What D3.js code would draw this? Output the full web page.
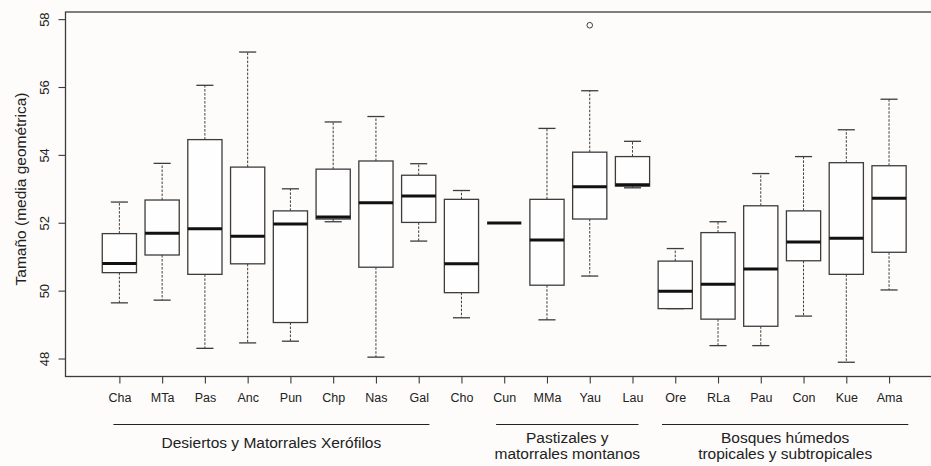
<!DOCTYPE html>
<html>
<head>
<meta charset="utf-8">
<script src="https://cdn.jsdelivr.net/npm/d3@7"></script>
<style>
  html, body { margin: 0; padding: 0; background: #fdfcfa; }
  svg { display: block; }
  text { font-family: "Liberation Sans", Arial, sans-serif; fill: #222; }
</style>
</head>
<body>
<svg id="chart" width="931" height="466"></svg>
<script>
// ---- data ----
const categories = ["Cha","MTa","Pas","Anc","Pun","Chp","Nas","Gal","Cho","Cun","MMa","Yau","Lau","Ore","RLa","Pau","Con","Kue","Ama"];
const whiskerLow  = [49.64,49.72,48.30,48.46,48.51,52.03,48.04,51.46,49.20,51.99,49.14,50.43,53.03,49.47,48.38,48.38,49.25,47.89,50.02];
const q1          = [50.53,51.05,50.48,50.79,49.06,52.11,50.69,52.01,49.94,51.99,50.16,52.11,53.08,49.47,49.16,48.95,50.88,50.48,51.13];
const medians     = [50.80,51.69,51.82,51.60,51.96,52.17,52.59,52.79,50.79,51.99,51.49,53.06,53.12,49.98,50.19,50.64,51.43,51.54,52.72];
const q3          = [51.68,52.67,54.45,53.64,52.35,53.58,53.82,53.40,52.69,51.99,52.69,54.08,53.95,50.87,51.71,52.50,52.35,53.77,53.68];
const whiskerHigh = [52.61,53.75,56.05,57.03,53.00,54.97,55.13,53.74,52.95,51.99,54.78,55.89,54.40,51.24,52.03,53.45,53.95,54.74,55.64];
const outliers    = [{cat:"Yau", value:57.82}];
const yTicks = [48,50,52,54,56,58];
const groupNames = [
  ["Desiertos y Matorrales Xerófilos"],
  ["Pastizales y","matorrales montanos"],
  ["Bosques húmedos","tropicales y subtropicales"]
];
// extent of each group's underline, in category-position units
const groupStart = [0.86, 9.81, 13.69];
const groupEnd   = [8.25, 13.14, 19.45];
const yTitle = "Tamaño (media geométrica)";

// ---- layout ----
const svg = d3.select("#chart");
const mLeft = 65.5, mTop = 12, mBottom = 376.5;
const n = categories.length;
const step = 42.76;
const xr = n * 0.04;
const x = d3.scaleLinear().domain([0.5 - xr, n + 0.5 + xr]).range([mLeft, mLeft + step * (n + 2 * xr)]);
const mRight = x.range()[1];
const y = d3.scaleLinear().domain([47.47, 58.21]).range([mBottom, mTop]);
const boxW = step * 0.8;
const capW = boxW * 0.5;
const lineCol = "#3c3c3c";

// frame
svg.append("rect").attr("x", mLeft).attr("y", mTop).attr("width", mRight - mLeft).attr("height", mBottom - mTop)
  .attr("fill", "none").attr("stroke", lineCol).attr("stroke-width", 1.3);

// y axis
const yAxis = d3.axisLeft(y).tickValues(yTicks).tickSize(7).tickFormat(d3.format("d"));
const gy = svg.append("g").attr("transform", `translate(${mLeft},0)`).call(yAxis);
gy.select(".domain").remove();
gy.selectAll(".tick line").attr("stroke", lineCol).attr("stroke-width", 1.1);
gy.selectAll(".tick text").remove();
gy.selectAll(".tick").append("text")
  .attr("transform", "translate(-21,0) rotate(-90)")
  .attr("text-anchor", "middle").attr("dy", "0.35em")
  .style("font-size", "13px").text(d => d);

// x axis
const xAxis = d3.axisBottom(x).tickValues(d3.range(1, n + 1)).tickSize(7).tickFormat(i => categories[i - 1]);
const gx = svg.append("g").attr("transform", `translate(0,${mBottom})`).call(xAxis);
gx.select(".domain").remove();
gx.selectAll(".tick line").attr("stroke", lineCol).attr("stroke-width", 1.1);
gx.selectAll(".tick text").attr("y", 21).attr("dy", "0.35em").attr("fill", "#222")
  .style("font-size", "12.5px").style("font-family", "Liberation Sans, Arial, sans-serif");

// boxes
const data = categories.map((c, i) => ({c, i: i + 1, lo: whiskerLow[i], q1: q1[i], med: medians[i], q3: q3[i], hi: whiskerHigh[i]}));
const g = svg.append("g");
data.forEach(d => {
  const cx = x(d.i);
  g.append("line").attr("x1", cx).attr("x2", cx).attr("y1", y(d.q3)).attr("y2", y(d.hi))
    .attr("stroke", lineCol).attr("stroke-width", 1).attr("stroke-dasharray", "2.5,1.5");
  g.append("line").attr("x1", cx).attr("x2", cx).attr("y1", y(d.q1)).attr("y2", y(d.lo))
    .attr("stroke", lineCol).attr("stroke-width", 1).attr("stroke-dasharray", "2.5,1.5");
  [d.hi, d.lo].forEach(v => {
    g.append("line").attr("x1", cx - capW / 2).attr("x2", cx + capW / 2).attr("y1", y(v)).attr("y2", y(v))
      .attr("stroke", lineCol).attr("stroke-width", 1.3);
  });
  g.append("rect").attr("x", cx - boxW / 2).attr("width", boxW)
    .attr("y", y(d.q3)).attr("height", Math.max(0, y(d.q1) - y(d.q3)))
    .attr("fill", "#fefefe").attr("stroke", lineCol).attr("stroke-width", 1.3);
  g.append("line").attr("x1", cx - boxW / 2).attr("x2", cx + boxW / 2).attr("y1", y(d.med)).attr("y2", y(d.med))
    .attr("stroke", "#111").attr("stroke-width", 3);
});

// outliers
outliers.forEach(o => {
  const i = categories.indexOf(o.cat) + 1;
  g.append("circle").attr("cx", x(i)).attr("cy", y(o.value)).attr("r", 2.8)
    .attr("fill", "none").attr("stroke", lineCol).attr("stroke-width", 1);
});

// y title
svg.append("text").attr("transform", `translate(21,189) rotate(-90)`)
  .attr("text-anchor", "middle").attr("dy", "0.35em").style("font-size", "15.5px").text(yTitle);

// group lines and labels
const lineY = 424.5;
groupNames.forEach((lines, k) => {
  const x1 = x(groupStart[k]);
  const x2 = x(groupEnd[k]);
  svg.append("line").attr("x1", x1).attr("x2", x2).attr("y1", lineY).attr("y2", lineY)
    .attr("stroke", "#222").attr("stroke-width", 1.2);
  const cx = (x1 + x2) / 2;
  const y0 = lines.length === 1 ? 442.5 : 438;
  lines.forEach((t, j) => {
    svg.append("text").attr("x", cx).attr("y", y0 + j * 15.5).attr("dy", "0.35em")
      .attr("text-anchor", "middle").style("font-size", "15.5px").text(t);
  });
});
</script>
</body>
</html>
